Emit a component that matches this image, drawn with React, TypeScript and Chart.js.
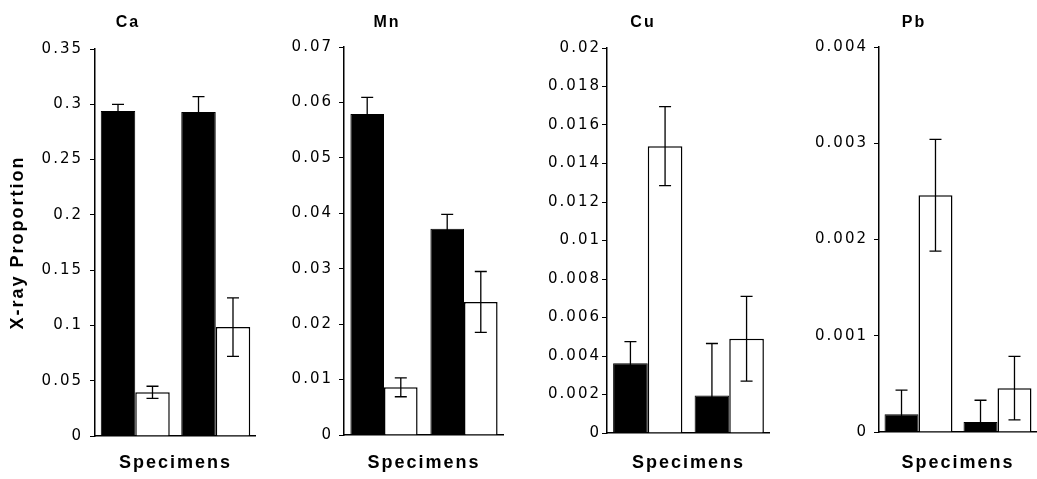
import React, { useEffect, useRef } from 'react';
import { Chart, registerables } from 'chart.js';

Chart.register(...registerables);

// ---------------- data ----------------
const groups = ['Specimen 1', 'Specimen 2'];
const seriesNames = ['Series A', 'Series B'];

const caBlack = [0.294, 0.293];
const caBlackErr = [0.006, 0.014];
const caWhite = [0.0395, 0.0985];
const caWhiteErr = [0.0055, 0.0265];
const caTicks = [0, 0.05, 0.1, 0.15, 0.2, 0.25, 0.3, 0.35];

const mnBlack = [0.0579, 0.0372];
const mnBlackErr = [0.003, 0.0026];
const mnWhite = [0.0086, 0.024];
const mnWhiteErr = [0.0017, 0.0055];
const mnTicks = [0, 0.01, 0.02, 0.03, 0.04, 0.05, 0.06, 0.07];

const cuBlack = [0.00362, 0.00195];
const cuBlackErr = [0.00113, 0.0027];
const cuWhite = [0.0149, 0.0049];
const cuWhiteErr = [0.00205, 0.0022];
const cuTicks = [0, 0.002, 0.004, 0.006, 0.008, 0.01, 0.012, 0.014, 0.016, 0.018, 0.02];

const pbBlack = [0.000185, 0.000105];
const pbBlackErr = [0.00025, 0.000225];
const pbWhite = [0.00246, 0.000455];
const pbWhiteErr = [0.00058, 0.00033];
const pbTicks = [0, 0.001, 0.002, 0.003, 0.004];

const panelTitles = ['Ca', 'Mn', 'Cu', 'Pb'];
const xTitle = 'Specimens';
const yTitle = 'X-ray Proportion';

// ---------------- layout (not data) ----------------
const H = 479;
const panels = [
  { title: panelTitles[0], black: caBlack, blackErr: caBlackErr, white: caWhite, whiteErr: caWhiteErr, ticks: caTicks,
    left: 0, width: 256, axisW: 95, top: 49, bottom: 436, pad: 7, cat: 0.857, showY: true },
  { title: panelTitles[1], black: mnBlack, blackErr: mnBlackErr, white: mnWhite, whiteErr: mnWhiteErr, ticks: mnTicks,
    left: 270, width: 234, axisW: 74, top: 47, bottom: 435, pad: 6, cat: 0.84, showY: false },
  { title: panelTitles[2], black: cuBlack, blackErr: cuBlackErr, white: cuWhite, whiteErr: cuWhiteErr, ticks: cuTicks,
    left: 516, width: 254, axisW: 91, top: 48, bottom: 433, pad: 1, cat: 0.85, showY: false },
  { title: panelTitles[3], black: pbBlack, blackErr: pbBlackErr, white: pbWhite, whiteErr: pbWhiteErr, ticks: pbTicks,
    left: 791, width: 246, axisW: 88, top: 47, bottom: 432, pad: 6, cat: 0.86, showY: false },
];

const spacingPlugin = {
  id: 'letterSpacing',
  beforeDraw(chart: any) {
    (chart.ctx as any).letterSpacing = '2px';
  },
};

const errorBarPlugin = {
  id: 'errorBars',
  afterDatasetsDraw(chart: any) {
    const { ctx, chartArea } = chart;
    const yScale = chart.scales.y;
    ctx.save();
    ctx.beginPath();
    ctx.rect(chartArea.left, chartArea.top, chartArea.right - chartArea.left, chartArea.bottom - chartArea.top);
    ctx.clip();
    ctx.strokeStyle = '#000';
    ctx.lineWidth = 1.3;
    const cap = 6;
    chart.data.datasets.forEach((ds: any, di: number) => {
      const meta = chart.getDatasetMeta(di);
      meta.data.forEach((bar: any, i: number) => {
        const v = ds.data[i];
        const e = ds.errors[i];
        const x = bar.x;
        const yT = yScale.getPixelForValue(v + e);
        const yB = yScale.getPixelForValue(v - e);
        ctx.beginPath();
        ctx.moveTo(x, yT);
        ctx.lineTo(x, yB);
        ctx.moveTo(x - cap, yT);
        ctx.lineTo(x + cap, yT);
        ctx.moveTo(x - cap, yB);
        ctx.lineTo(x + cap, yB);
        ctx.stroke();
      });
    });
    ctx.restore();
  },
};

function Panel({ p }: { p: any }) {
  const ref = useRef<HTMLCanvasElement | null>(null);
  useEffect(() => {
    if (!ref.current) return;
    const chart = new Chart(ref.current, {
      type: 'bar',
      data: {
        labels: groups,
        datasets: [
          {
            label: seriesNames[0],
            data: p.black,
            errors: p.blackErr,
            backgroundColor: '#000',
            borderColor: '#000',
            borderWidth: 1,
            categoryPercentage: p.cat,
            barPercentage: 1,
          } as any,
          {
            label: seriesNames[1],
            data: p.white,
            errors: p.whiteErr,
            backgroundColor: '#fff',
            borderColor: '#000',
            borderWidth: 1.5,
            categoryPercentage: p.cat,
            barPercentage: 1,
          } as any,
        ],
      },
      options: {
        responsive: false,
        animation: false,
        devicePixelRatio: 1,
        layout: { padding: 0 },
        plugins: {
          legend: { display: false },
          tooltip: { enabled: false },
          title: {
            display: true,
            text: p.title,
            color: '#000',
            font: { family: 'Liberation Sans', size: 16, weight: 'bold' },
            padding: { top: 13, bottom: p.top - 13 - 19.2 },
          },
        },
        scales: {
          x: {
            grid: { display: true, drawOnChartArea: false, drawTicks: false, offset: false },
            border: { display: true, color: '#000', width: 1.5 },
            ticks: { display: false },
            title: {
              display: true,
              text: xTitle,
              color: '#000',
              font: { family: 'Liberation Sans', size: 18, weight: 'bold' },
              padding: { top: 0, bottom: 5 },
            },
            afterFit: (s: any) => {
              s.height = H - p.bottom;
            },
          },
          y: {
            min: 0,
            max: p.ticks[p.ticks.length - 1],
            afterBuildTicks: (s: any) => {
              s.ticks = p.ticks.map((v: number) => ({ value: v }));
            },
            ticks: {
              callback: (v: any) => String(v),
              color: '#000',
              font: { family: 'DejaVu Sans', size: 15 },
              padding: p.pad,
            },
            grid: { drawOnChartArea: false, drawTicks: true, tickLength: 5, color: '#000', lineWidth: 1 },
            border: { display: true, color: '#000', width: 1.5 },
            title: {
              display: p.showY,
              text: yTitle,
              color: '#000',
              font: { family: 'Liberation Sans', size: 18, weight: 'bold' },
              padding: { top: 7, bottom: 0 },
            },
            afterFit: (s: any) => {
              s.width = p.axisW;
            },
          },
        },
      } as any,
      plugins: [spacingPlugin, errorBarPlugin],
    });
    return () => chart.destroy();
  }, []);
  return (
    <canvas
      ref={ref}
      width={p.width}
      height={H}
      style={{ position: 'absolute', left: p.left, top: 0 }}
    />
  );
}

export default function App() {
  return (
    <div
      style={{
        position: 'absolute',
        left: 0,
        top: 0,
        width: 1037,
        height: H,
        overflow: 'hidden',
        background: '#fff',
      }}
    >
      {panels.map((p) => (
        <Panel key={p.title} p={p} />
      ))}
    </div>
  );
}
